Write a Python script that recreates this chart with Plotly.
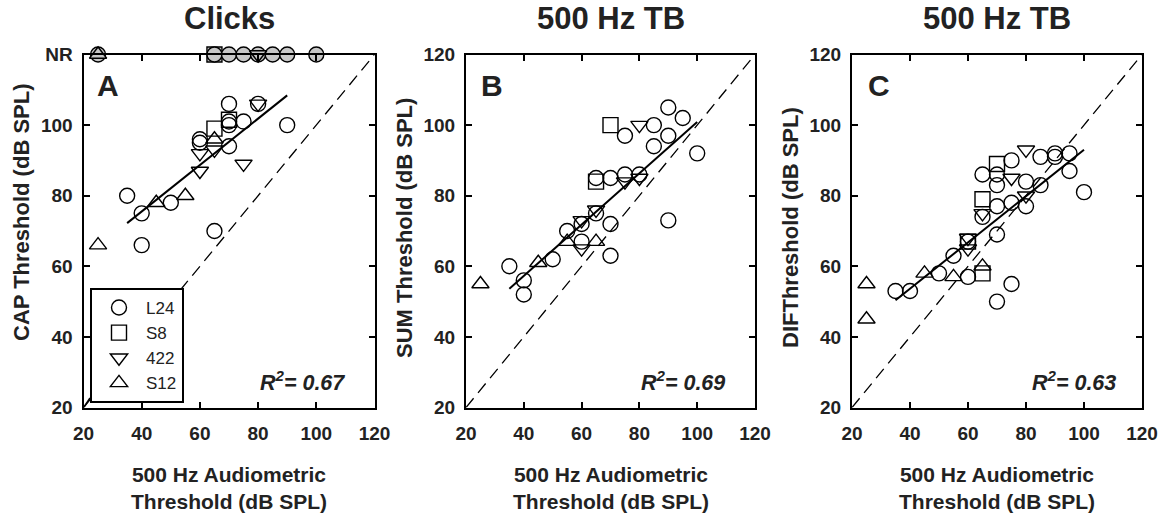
import plotly.graph_objects as go

W, H = 1176, 515
FONT = "Liberation Sans, Arial, sans-serif"

# ---------------- data ----------------
subjects = ["L24", "S8", "422", "S12"]
symbols = {"L24": "circle", "S8": "square", "422": "triangle-down", "S12": "triangle-up"}

# Panel A: CAP threshold (clicks) vs 500 Hz audiometric threshold
capA_L24_x = [35, 40, 40, 50, 60, 60, 65, 70, 70, 70, 70, 75, 80, 90]
capA_L24_y = [80, 75, 66, 78, 96, 95, 70, 106, 101, 100, 94, 101, 106, 100]
capA_S8_x = [65, 70]
capA_S8_y = [99, 101.5]
capA_422_x = [60, 60, 65, 75, 80]
capA_422_y = [92, 87, 93, 89, 106]
capA_S12_x = [25, 45, 55, 65]
capA_S12_y = [66, 78, 80, 96]
# no response (NR) cases, plotted at the NR level (120)
nrA_L24_x = [25, 65, 70, 75, 80, 85, 90, 100]
nrA_S8_x = [65]
nrA_422_x = [80]
nrA_S12_x = [25]
NR_LEVEL = 120

# Panel B: SUM threshold (500 Hz TB)
sumB_L24_x = [35, 40, 40, 50, 55, 60, 60, 65, 65, 70, 70, 70, 75, 75, 80, 85, 85, 90, 90, 90, 95, 100]
sumB_L24_y = [60, 56, 52, 62, 70, 72, 67, 85, 75, 85, 72, 63, 97, 86, 86, 100, 94, 105, 97, 73, 102, 92]
sumB_S8_x = [70, 65]
sumB_S8_y = [100, 84]
sumB_422_x = [80, 75, 80, 65, 60, 60]
sumB_422_y = [100, 84, 85, 76, 73, 65]
sumB_S12_x = [25, 45, 55, 65]
sumB_S12_y = [55, 61, 67, 67]

# Panel C: DIF threshold (500 Hz TB)
difC_L24_x = [35, 40, 50, 55, 60, 60, 65, 65, 70, 70, 70, 70, 70, 75, 75, 75, 80, 80, 85, 85, 90, 90, 95, 95, 100]
difC_L24_y = [53, 53, 58, 63, 57, 67, 86, 74, 86, 83, 77, 69, 50, 90, 78, 55, 84, 77, 91, 83, 92, 91, 92, 87, 81]
difC_S8_x = [70, 65, 60, 65]
difC_S8_y = [89, 79, 67, 58]
difC_422_x = [80, 75, 80, 65, 60, 60]
difC_422_y = [93, 85, 80, 75, 68, 65]
difC_S12_x = [25, 25, 45, 55, 65]
difC_S12_y = [55, 45, 58, 57, 60]

# regression fits (slope, intercept, x-extent) and R^2 labels
fitA = {"slope": 0.658, "intercept": 49.2, "xr": [35, 90]}
fitB = {"slope": 0.727, "intercept": 28.2, "xr": [35, 100]}
fitC = {"slope": 0.656, "intercept": 27.4, "xr": [35, 100]}
r2_labels = ["0.67", "0.69", "0.63"]

titles = ["Clicks", "500 Hz TB", "500 Hz TB"]
ytitles = ["CAP Threshold (dB SPL)", "SUM Threshold (dB SPL)", "DIFThreshold (dB SPL)"]
xtitle = "500 Hz Audiometric<br>Threshold (dB SPL)"
letters = ["A", "B", "C"]
tick_vals = [20, 40, 60, 80, 100, 120]
tickA_text = ["20", "40", "60", "80", "100", "NR"]
tick_text = ["20", "40", "60", "80", "100", "120"]
identity = [20, 120]

# ---------------- layout geometry ----------------
xdoms = [[83.5 / W, 374.5 / W], [466 / W, 755 / W], [852 / W, 1142 / W]]
ydom = [1 - 407.5 / H, 1 - 54.5 / H]

fig = go.Figure()

panels = [
    {"L24": (capA_L24_x, capA_L24_y), "S8": (capA_S8_x, capA_S8_y),
     "422": (capA_422_x, capA_422_y), "S12": (capA_S12_x, capA_S12_y)},
    {"L24": (sumB_L24_x, sumB_L24_y), "S8": (sumB_S8_x, sumB_S8_y),
     "422": (sumB_422_x, sumB_422_y), "S12": (sumB_S12_x, sumB_S12_y)},
    {"L24": (difC_L24_x, difC_L24_y), "S8": (difC_S8_x, difC_S8_y),
     "422": (difC_422_x, difC_422_y), "S12": (difC_S12_x, difC_S12_y)},
]
fits = [fitA, fitB, fitC]

for i, pdata in enumerate(panels):
    xa = "x" if i == 0 else f"x{i+1}"
    ya = "y" if i == 0 else f"y{i+1}"
    # identity line
    fig.add_trace(go.Scatter(x=identity, y=identity, mode="lines", xaxis=xa, yaxis=ya,
                             line=dict(color="black", width=1.3, dash="12px,7px"),
                             showlegend=False, hoverinfo="skip"))
    # regression line
    f = fits[i]
    fx = f["xr"]
    fy = [f["slope"] * v + f["intercept"] for v in fx]
    fig.add_trace(go.Scatter(x=fx, y=fy, mode="lines", xaxis=xa, yaxis=ya,
                             line=dict(color="black", width=2),
                             showlegend=False, hoverinfo="skip"))
    for s in subjects:
        xs, ys = pdata[s]
        fig.add_trace(go.Scatter(
            x=xs, y=ys, mode="markers", xaxis=xa, yaxis=ya, name=s,
            legendgroup=s, showlegend=(i == 0),
            marker=dict(symbol=symbols[s] + "-open", size=15, color="black",
                        line=dict(width=1.4, color="black")),
            cliponaxis=False))

# NR points in panel A (gray filled)
for s, xs in [("S8", nrA_S8_x), ("L24", nrA_L24_x), ("422", nrA_422_x), ("S12", nrA_S12_x)]:
    fig.add_trace(go.Scatter(
        x=xs, y=[NR_LEVEL] * len(xs), mode="markers", xaxis="x", yaxis="y",
        showlegend=False, legendgroup=s,
        marker=dict(symbol=symbols[s], size=15, color="#c8c8c8",
                    line=dict(width=1.4, color="black")),
        cliponaxis=False))

axis_common = dict(range=[20, 120], showline=True, linecolor="black", linewidth=2,
                   mirror="ticks", ticks="inside", ticklen=6, tickwidth=1.5, tickcolor="black",
                   showgrid=False, zeroline=False, tickvals=tick_vals, automargin=False,
                   tickfont=dict(family=FONT, size=19, color="#222", weight="bold"))

layout = dict(width=W, height=H, margin=dict(l=0, r=0, t=0, b=0, autoexpand=False),
              paper_bgcolor="white", plot_bgcolor="white",
              showlegend=True,
              legend=dict(x=90 / W, y=1 - 288 / H, xanchor="left", yanchor="top",
                          bgcolor="white", bordercolor="black", borderwidth=2,
                          font=dict(family=FONT, size=17, color="#222"),
                          tracegroupgap=0, itemwidth=44,
                          traceorder="normal"))
for i in range(3):
    xk = "xaxis" if i == 0 else f"xaxis{i+1}"
    yk = "yaxis" if i == 0 else f"yaxis{i+1}"
    xa = dict(axis_common, domain=xdoms[i], ticktext=tick_text,
              anchor="y" if i == 0 else f"y{i+1}", ticklabelstandoff=8)
    ya = dict(axis_common, domain=ydom, ticktext=tickA_text if i == 0 else tick_text,
              anchor="x" if i == 0 else f"x{i+1}", ticklabelstandoff=5)
    layout[xk] = xa
    layout[yk] = ya
fig.update_layout(**layout)

# 3-D corner of the legend frame (decorative)
fig.add_shape(type="line", xref="paper", yref="paper",
              x0=84 / W, y0=1 - 407 / H, x1=90 / W, y1=1 - 398 / H,
              line=dict(color="black", width=1.5))

# annotations
ytitle_pos = [(21, 212), (404, 228), (790, 228)]
letter_x = [95, 479, 866]
r2_x = [110.5, 110.3, 111.8]
for i in range(3):
    cx = (xdoms[i][0] + xdoms[i][1]) / 2
    xa = "x" if i == 0 else f"x{i+1}"
    ya = "y" if i == 0 else f"y{i+1}"
    fig.add_annotation(text=f"<b>{titles[i]}</b>", xref="paper", yref="paper",
                       x=cx, y=1 - 18 / H, xanchor="center", yanchor="middle",
                       showarrow=False, font=dict(family=FONT, size=31, color="#222"))
    fig.add_annotation(text=f"<b>{xtitle}</b>", xref="paper", yref="paper",
                       x=cx, y=1 - 488 / H, xanchor="center", yanchor="middle",
                       showarrow=False, font=dict(family=FONT, size=21, color="#222"))
    px, py = ytitle_pos[i]
    fig.add_annotation(text=f"<b>{ytitles[i]}</b>", xref="paper", yref="paper",
                       x=px / W, y=1 - py / H, xanchor="center", yanchor="middle",
                       textangle=-90, showarrow=False,
                       font=dict(family=FONT, size=22, color="#222"))
    fig.add_annotation(text=f"<b>{letters[i]}</b>", xref="paper", yref="paper",
                       x=letter_x[i] / W, y=1 - 85 / H, xanchor="left", yanchor="middle",
                       showarrow=False, font=dict(family=FONT, size=30, color="#222"))
    fig.add_annotation(text=f"<b><i>R<sup>2</sup>= {r2_labels[i]}</i></b>", xref=xa, yref=ya,
                       x=r2_x[i], y=27.5, xanchor="right", yanchor="middle",
                       showarrow=False, font=dict(family=FONT, size=21.5, color="#222"))

fig.write_html("out.html", config={"displayModeBar": False},
               post_script="document.body.style.margin='0px';")
